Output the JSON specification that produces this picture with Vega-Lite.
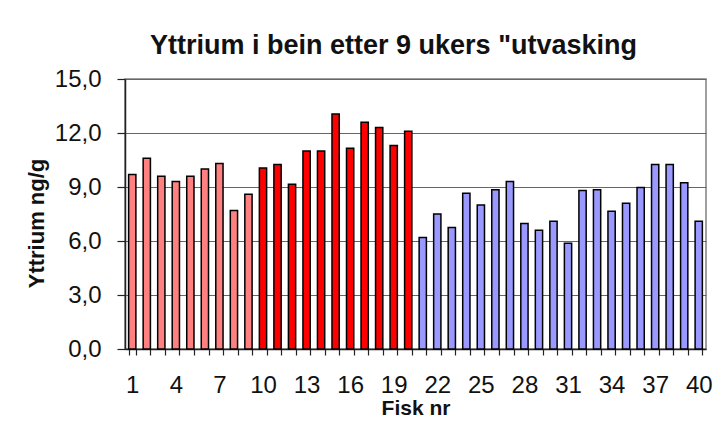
{
  "$schema": "https://vega.github.io/schema/vega-lite/v6.json",
  "autosize": "none",
  "width": 581,
  "height": 270,
  "padding": {"left": 125, "top": 79, "right": 17, "bottom": 76},
  "background": "white",
  "config": {
    "font": "Liberation Sans",
    "view": {"stroke": "#808080", "strokeWidth": 1.5}
  },
  "title": {
    "text": "Yttrium i bein etter 9 ukers \"utvasking",
    "font": "Liberation Sans",
    "fontSize": 27,
    "fontWeight": "bold",
    "color": "#111111",
    "anchor": "middle",
    "baseline": "alphabetic",
    "dx": -22,
    "dy": 32,
    "offset": 18
  },
  "data": {
    "values": [
      {"fisk": 1, "y": 9.7, "gruppe": "A"},
      {"fisk": 2, "y": 10.6, "gruppe": "A"},
      {"fisk": 3, "y": 9.6, "gruppe": "A"},
      {"fisk": 4, "y": 9.3, "gruppe": "A"},
      {"fisk": 5, "y": 9.6, "gruppe": "A"},
      {"fisk": 6, "y": 10.0, "gruppe": "A"},
      {"fisk": 7, "y": 10.3, "gruppe": "A"},
      {"fisk": 8, "y": 7.7, "gruppe": "A"},
      {"fisk": 9, "y": 8.6, "gruppe": "A"},
      {"fisk": 10, "y": 10.05, "gruppe": "B"},
      {"fisk": 11, "y": 10.25, "gruppe": "B"},
      {"fisk": 12, "y": 9.15, "gruppe": "B"},
      {"fisk": 13, "y": 11.0, "gruppe": "B"},
      {"fisk": 14, "y": 11.0, "gruppe": "B"},
      {"fisk": 15, "y": 13.05, "gruppe": "B"},
      {"fisk": 16, "y": 11.15, "gruppe": "B"},
      {"fisk": 17, "y": 12.6, "gruppe": "B"},
      {"fisk": 18, "y": 12.3, "gruppe": "B"},
      {"fisk": 19, "y": 11.3, "gruppe": "B"},
      {"fisk": 20, "y": 12.1, "gruppe": "B"},
      {"fisk": 21, "y": 6.2, "gruppe": "C"},
      {"fisk": 22, "y": 7.5, "gruppe": "C"},
      {"fisk": 23, "y": 6.75, "gruppe": "C"},
      {"fisk": 24, "y": 8.65, "gruppe": "C"},
      {"fisk": 25, "y": 8.0, "gruppe": "C"},
      {"fisk": 26, "y": 8.85, "gruppe": "C"},
      {"fisk": 27, "y": 9.3, "gruppe": "C"},
      {"fisk": 28, "y": 6.97, "gruppe": "C"},
      {"fisk": 29, "y": 6.6, "gruppe": "C"},
      {"fisk": 30, "y": 7.1, "gruppe": "C"},
      {"fisk": 31, "y": 5.87, "gruppe": "C"},
      {"fisk": 32, "y": 8.8, "gruppe": "C"},
      {"fisk": 33, "y": 8.85, "gruppe": "C"},
      {"fisk": 34, "y": 7.65, "gruppe": "C"},
      {"fisk": 35, "y": 8.1, "gruppe": "C"},
      {"fisk": 36, "y": 8.97, "gruppe": "C"},
      {"fisk": 37, "y": 10.25, "gruppe": "C"},
      {"fisk": 38, "y": 10.25, "gruppe": "C"},
      {"fisk": 39, "y": 9.23, "gruppe": "C"},
      {"fisk": 40, "y": 7.1, "gruppe": "C"}
    ]
  },
  "mark": {"type": "bar", "stroke": "black", "strokeWidth": 1.5},
  "encoding": {
    "x": {
      "field": "fisk",
      "type": "ordinal",
      "sort": null,
      "scale": {"paddingInner": 0.5, "paddingOuter": 0.25},
      "axis": {
        "title": "Fisk nr",
        "titleFont": "Liberation Sans",
        "titleFontSize": 21,
        "titleFontWeight": "bold",
        "titleColor": "#111111",
        "titlePadding": 0,
        "titleDx": -18,
        "labelAngle": 0,
        "labelFontSize": 24,
        "labelColor": "#111111",
        "labelPadding": 18,
        "labelOverlap": false,
        "labelExpr": "(datum.value - 1) % 3 == 0 ? datum.label : ''",
        "tickBand": "extent",
        "tickSize": 6,
        "tickColor": "#222222",
        "tickWidth": 1.2,
        "domainColor": "#222222",
        "domainWidth": 1.5
      }
    },
    "y": {
      "field": "y",
      "type": "quantitative",
      "scale": {"domain": [0, 15], "nice": false},
      "axis": {
        "title": "Yttrium ng/g",
        "titleFont": "Liberation Sans",
        "titleFontSize": 22,
        "titleFontWeight": "bold",
        "titleColor": "#111111",
        "titlePadding": 6,
        "titleY": 144,
        "values": [0, 3, 6, 9, 12, 15],
        "labelExpr": "replace(format(datum.value, '.1f'), '.', ',')",
        "labelFontSize": 24,
        "labelColor": "#111111",
        "labelPadding": 16,
        "tickSize": 8,
        "tickColor": "#222222",
        "tickWidth": 1.2,
        "domainColor": "#222222",
        "domainWidth": 1.5,
        "grid": true,
        "gridColor": "#666666",
        "gridWidth": 1.2,
        "gridOpacity": 1
      }
    },
    "color": {
      "field": "gruppe",
      "type": "nominal",
      "scale": {"domain": ["A", "B", "C"], "range": ["#FF8080", "#FF0000", "#9999FF"]},
      "legend": null
    }
  }
}
